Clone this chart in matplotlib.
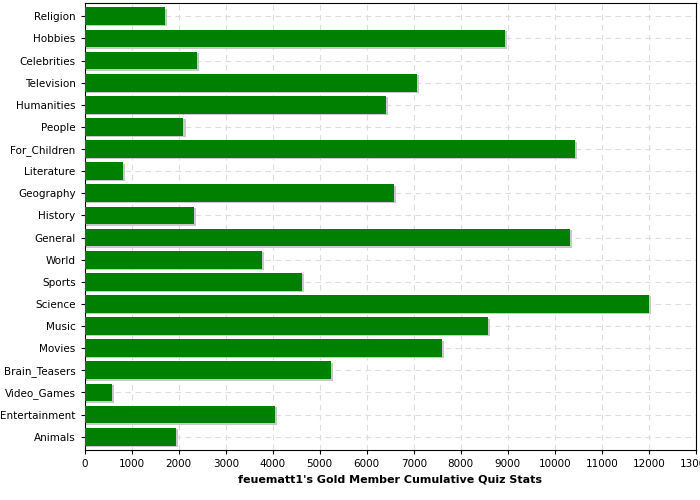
import matplotlib
matplotlib.use("Agg")
import matplotlib.pyplot as plt

categories = ["Religion","Hobbies","Celebrities","Television","Humanities","People","For_Children",
              "Literature","Geography","History","General","World","Sports","Science","Music",
              "Movies","Brain_Teasers","Video_Games","Entertainment","Animals"]
values = [1700,8940,2380,7060,6400,2100,10430,810,6570,2320,10320,3770,4620,12000,8570,7600,5230,575,4040,1940]

fig = plt.figure(figsize=(7,5), dpi=100)
ax = fig.add_axes([0.121, 0.1, 0.873, 0.894])
n = len(categories)
pos = list(range(n))[::-1]
ax.barh([p - 0.06 for p in pos], [v + 50 for v in values], height=0.8, color="#c8c8c8", zorder=2)
ax.barh(pos, values, height=0.8, color="#008000", zorder=3)
ax.set_yticks(pos)
ax.set_yticklabels(categories, fontsize=7.5)
ax.set_ylim(-0.6, n - 0.4)
ax.set_xlim(0, 13000)
ax.set_xticks(range(0, 13001, 1000))
ax.set_xticklabels([str(x) for x in range(0, 13001, 1000)], fontsize=7.5)
ax.grid(True, linestyle=(0,(5,4)), color="#dddddd", linewidth=0.8, zorder=0)
ax.set_axisbelow(True)
ax.tick_params(length=3)
ax.set_xlabel("feuematt1's Gold Member Cumulative Quiz Stats", fontsize=8, fontweight="bold", labelpad=4)
fig.savefig("out.png", dpi=100)
